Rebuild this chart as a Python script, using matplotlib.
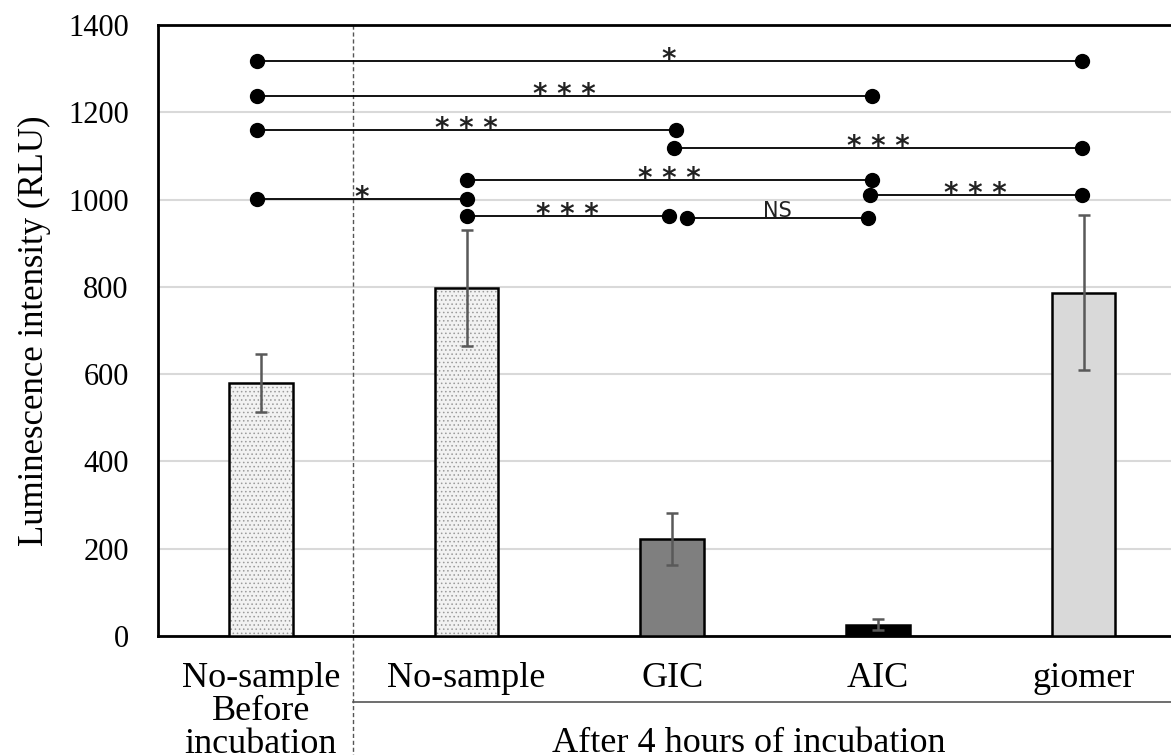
import matplotlib
matplotlib.use("Agg")
import matplotlib.pyplot as plt
import matplotlib.transforms as mtransforms

plt.rcParams['font.family'] = ['Liberation Serif', 'DejaVu Serif']
plt.rcParams['hatch.linewidth'] = 0.6

# data
groups = ['No-sample\nBefore\nincubation', 'No-sample', 'GIC', 'AIC', 'giomer']
means = [580, 797, 222, 26, 787]
errors = [66, 133, 60, 12, 178]
face_colors = ['#f2f2f2', '#f2f2f2', '#7f7f7f', '#000000', '#d9d9d9']
hatches = ['....', '....', '', '', '']

# significance brackets: (x start, x end, level, label)
brackets = [
    (-0.02, 3.99, 1318, '*'),
    (-0.02, 2.97, 1237, '* * *'),
    (-0.02, 2.02, 1160, '* * *'),
    (2.01, 3.99, 1118, '* * *'),
    (1.00, 2.97, 1045, '* * *'),
    (-0.02, 1.00, 1001, '*'),
    (2.96, 3.99, 1011, '* * *'),
    (1.00, 1.985, 963, '* * *'),
    (2.07, 2.95, 958, 'NS'),
]

fig = plt.figure(figsize=(11.71, 7.55), dpi=100)
ax = fig.add_axes([0.1349, 0.1576, 0.8783, 0.8093])

x = list(range(len(groups)))
# fill + dotted pattern first, then the black outline on top
ax.bar(x, means, width=0.31, color=face_colors, edgecolor='#9a9a9a',
       linewidth=0, hatch=hatches, zorder=3)
ax.bar(x, means, width=0.31, color='none', edgecolor='black',
       linewidth=1.8, zorder=3)
ax.errorbar(x, means, yerr=errors, fmt='none', ecolor='#595959',
            elinewidth=1.8, capsize=4, capthick=1.8, zorder=4)

ax.set_xlim(-0.5, 4.5)
ax.set_ylim(0, 1400)
ax.set_yticks(range(0, 1401, 200))
ax.tick_params(axis='y', length=0, labelsize=22, pad=21)
ax.tick_params(axis='x', length=0, labelbottom=False)
ax.yaxis.grid(True, color='#d9d9d9', linewidth=1.5, zorder=0)
ax.set_axisbelow(True)
for s in ax.spines.values():
    s.set_linewidth(2)
ax.spines['right'].set_visible(False)
ax.set_ylabel('Luminescence intensity (RLU)', fontsize=25, labelpad=12)

# brackets
for x1, x2, lvl, lab in brackets:
    ax.plot([x1, x2], [lvl, lvl], color='black', linewidth=1.3,
            marker='o', markersize=10, zorder=5)
    if lab == 'NS':
        ax.annotate(lab, ((x1 + x2) / 2, lvl), xytext=(0, 1),
                    textcoords='offset points', ha='center', va='baseline',
                    fontsize=15, family='DejaVu Sans', color='#222222')
    else:
        ax.annotate(lab, ((x1 + x2) / 2, lvl), xytext=(0, -5),
                    textcoords='offset points', ha='center',
                    va='baseline', fontsize=20, family='DejaVu Sans',
                    fontweight='bold', color='#222222')

# group separators below the axis
trans = mtransforms.blended_transform_factory(ax.transData, ax.transAxes)
ax.plot([0.45, 0.45], [1.0, -0.2], transform=trans, color='#555555',
        linewidth=1, linestyle=(0, (3, 2)), clip_on=False, zorder=2)
ax.plot([0.45, 4.5], [-0.108, -0.108], transform=trans, color='#555555',
        linewidth=1.2, clip_on=False)

for xi, g in zip(x, groups):
    ax.text(xi, -0.042, g, transform=trans, ha='center', va='top',
            fontsize=26, linespacing=1.0)
ax.text(2.37, -0.19, 'After 4 hours of incubation', transform=trans,
        ha='center', va='baseline', fontsize=26)

fig.savefig('out.png', dpi=100)
